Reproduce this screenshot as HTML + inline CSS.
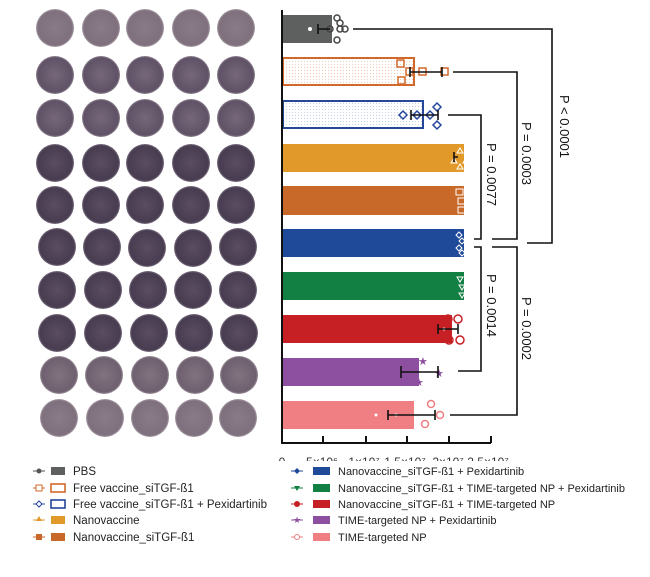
<!DOCTYPE html>
<html><head><meta charset="utf-8"><style>
html,body{margin:0;padding:0;background:#fff;}
svg{display:block;font-family:"Liberation Sans",sans-serif;}
</style></head><body>
<svg width="650" height="577" viewBox="0 0 650 577" xmlns="http://www.w3.org/2000/svg">
<defs>
<radialGradient id="gL"><stop offset="0" stop-color="#8a7b88"/><stop offset="0.9" stop-color="#7f707d"/><stop offset="1" stop-color="#a89ca6"/></radialGradient>
<radialGradient id="gM"><stop offset="0" stop-color="#76687a"/><stop offset="0.9" stop-color="#605266"/><stop offset="1" stop-color="#8e8290"/></radialGradient>
<radialGradient id="gD"><stop offset="0" stop-color="#5a4d62"/><stop offset="0.9" stop-color="#483c50"/><stop offset="1" stop-color="#7a6e80"/></radialGradient>
<radialGradient id="gP"><stop offset="0" stop-color="#82737f"/><stop offset="0.9" stop-color="#6e606f"/><stop offset="1" stop-color="#9c909a"/></radialGradient>
<pattern id="dots" width="3" height="3" patternUnits="userSpaceOnUse"><rect width="3" height="3" fill="#fff"/><circle cx="1.5" cy="1.5" r="0.6" fill="#c9d0e6"/></pattern>
<pattern id="dotsO" width="3" height="3" patternUnits="userSpaceOnUse"><rect width="3" height="3" fill="#fff"/><circle cx="1.5" cy="1.5" r="0.6" fill="#f0cdb8"/></pattern>
<clipPath id="cl"><rect x="0" y="0" width="650" height="461"/></clipPath>
</defs>
<g>
<g fill="url(#gL)"><circle cx="55" cy="28" r="19"/><circle cx="101" cy="28" r="19"/><circle cx="145" cy="28" r="19"/><circle cx="191" cy="28" r="19"/><circle cx="236" cy="28" r="19"/></g>
<g fill="url(#gM)"><circle cx="55" cy="75" r="19"/><circle cx="101" cy="75" r="19"/><circle cx="145" cy="75" r="19"/><circle cx="191" cy="75" r="19"/><circle cx="236" cy="75" r="19"/>
<circle cx="55" cy="118" r="19"/><circle cx="101" cy="118" r="19"/><circle cx="145" cy="118" r="19"/><circle cx="191" cy="118" r="19"/><circle cx="236" cy="118" r="19"/></g>
<g fill="url(#gD)">
<circle cx="55" cy="163" r="19"/><circle cx="101" cy="163" r="19"/><circle cx="145" cy="163" r="19"/><circle cx="191" cy="163" r="19"/><circle cx="236" cy="163" r="19"/>
<circle cx="55" cy="205" r="19"/><circle cx="101" cy="205" r="19"/><circle cx="145" cy="205" r="19"/><circle cx="191" cy="205" r="19"/><circle cx="236" cy="205" r="19"/>
<circle cx="57" cy="247" r="19"/><circle cx="102" cy="247" r="19"/><circle cx="147" cy="248" r="19"/><circle cx="193" cy="248" r="19"/><circle cx="238" cy="247" r="19"/>
<circle cx="57" cy="290" r="19"/><circle cx="103" cy="290" r="19"/><circle cx="148" cy="290" r="19"/><circle cx="193" cy="290" r="19"/><circle cx="238" cy="290" r="19"/>
<circle cx="57" cy="333" r="19"/><circle cx="103" cy="333" r="19"/><circle cx="149" cy="333" r="19"/><circle cx="194" cy="333" r="19"/><circle cx="239" cy="333" r="19"/></g>
<g fill="url(#gP)"><circle cx="59" cy="375" r="19"/><circle cx="104" cy="375" r="19"/><circle cx="150" cy="375" r="19"/><circle cx="195" cy="375" r="19"/><circle cx="239" cy="375" r="19"/></g>
<g fill="url(#gL)"><circle cx="59" cy="418" r="19"/><circle cx="105" cy="418" r="19"/><circle cx="150" cy="418" r="19"/><circle cx="194" cy="418" r="19"/><circle cx="238" cy="418" r="19"/></g>
</g>
<rect x="282" y="15" width="50" height="28" fill="#5e6060"/>
<rect x="283" y="58" width="131" height="27" fill="url(#dotsO)" stroke="#d2692c" stroke-width="2"/>
<rect x="283" y="101" width="140" height="27" fill="url(#dots)" stroke="#25479a" stroke-width="2"/>
<rect x="282" y="144" width="182" height="28" fill="#e19a2a"/>
<rect x="282" y="186" width="182" height="29" fill="#c8692a"/>
<rect x="282" y="229" width="182" height="28" fill="#1e4a99"/>
<rect x="282" y="272" width="182" height="28" fill="#128042"/>
<rect x="282" y="315" width="170" height="28" fill="#c62025"/>
<rect x="282" y="358" width="137" height="28" fill="#8d4f9f"/>
<rect x="282" y="401" width="132" height="28" fill="#ef7f82"/>
<g fill="none" stroke-width="1.5">
<g stroke="#444"><circle cx="337" cy="18" r="3"/><circle cx="340" cy="29" r="3"/><circle cx="337" cy="40" r="3"/><circle cx="330" cy="29" r="3"/><circle cx="345" cy="29" r="3"/><circle cx="340" cy="23" r="3"/></g>
<g stroke="#d2692c"><rect x="397" y="60" width="7" height="7"/><rect x="398" y="77" width="7" height="7"/><rect x="406" y="68" width="7" height="7"/><rect x="419" y="68" width="7" height="7"/><rect x="441" y="68" width="7" height="7"/></g>
<g stroke="#25479a"><path d="M403 111l4 4-4 4-4-4z"/><path d="M417 111l4 4-4 4-4-4z"/><path d="M430 111l4 4-4 4-4-4z"/><path d="M437 103l4 4-4 4-4-4z"/><path d="M437 121l4 4-4 4-4-4z"/></g>
<g stroke="#fff" stroke-width="1"><path d="M460 148l3 5h-6zM460 164l3 5h-6zM454 158l3 5h-6zM466 158l3 5h-6z"/><rect x="456" y="189" width="7" height="6"/><rect x="458" y="198" width="7" height="6"/><rect x="458" y="207" width="7" height="6"/><path d="M459 232l3 3-3 3-3-3zM462 238l3 3-3 3-3-3zM459 245l3 3-3 3-3-3zM462 250l3 3-3 3-3-3z"/><path d="M457 277h6l-3 5zM459 285h6l-3 5zM459 293h6l-3 5z"/></g>
<g stroke="#c62025"><circle cx="448" cy="319" r="4"/><circle cx="458" cy="319" r="4"/><circle cx="449" cy="340" r="4"/><circle cx="460" cy="340" r="4"/></g>
<g stroke="#ef7f82"><circle cx="431" cy="404" r="3.5"/><circle cx="440" cy="415" r="3.5"/><circle cx="425" cy="424" r="3.5"/></g>
</g>
<g fill="#8d4f9f" font-size="11"><text x="418" y="365">★</text><text x="434" y="377">★</text><text x="414" y="386">★</text><text x="398" y="367">★</text></g>
<g fill="#fff"><circle cx="310" cy="29" r="2"/><circle cx="376" cy="415" r="1.5"/><circle cx="396" cy="415" r="1.5"/><circle cx="444" cy="329" r="1.5"/></g>
<g stroke="#111" stroke-width="1.6" fill="none">
<path d="M318 29h12M318 24v10"/>
<path d="M410 72h32M410 67v10M442 67v10"/>
<path d="M411 115h27M411 110v10M438 110v10"/>
<path d="M454 157h4M454 152v10"/>
<path d="M438 329h20M438 324v10M458 324v10"/>
<path d="M401 372h37M401 366v12M438 366v12"/>
<path d="M388 415h47M388 410v10M435 410v10"/>
<path d="M353 29H552V243H527"/>
<path d="M453 72H517V239H492"/>
<path d="M448 115H481V239H474"/>
<path d="M474 247H481V371H458"/>
<path d="M492 247H517V415H450"/>
</g>
<g font-size="13" fill="#111">
<text transform="translate(560,95) rotate(90)">P &lt; 0.0001</text>
<text transform="translate(522,122) rotate(90)">P = 0.0003</text>
<text transform="translate(487,143) rotate(90)">P = 0.0077</text>
<text transform="translate(487,274) rotate(90)">P = 0.0014</text>
<text transform="translate(522,297) rotate(90)">P = 0.0002</text>
</g>
<g stroke="#111" stroke-width="2" fill="none">
<path d="M282 10V443H491"/>
<path d="M323 443v-7M366 443v-7M407 443v-7M449 443v-7M491 443v-7"/>
</g>
<g clip-path="url(#cl)" font-size="12" fill="#333" text-anchor="middle">
<text x="282" y="466">0</text><text x="322" y="466">5×10⁶</text><text x="364" y="466">1×10⁷</text><text x="405" y="466">1.5×10⁷</text><text x="448" y="466">2×10⁷</text><text x="488" y="466">2.5×10⁷</text>
</g>
<g font-size="11.5" fill="#222">
<g><path d="M33 471h12" stroke="#555"/><circle cx="39" cy="471" r="2.5" fill="#555"/><rect x="51" y="467" width="14" height="8" fill="#5e6060"/><text x="73" y="475">PBS</text></g>
<g><path d="M33 488h12" stroke="#d2692c"/><rect x="36" y="485" width="6" height="6" fill="#fff" stroke="#d2692c"/><rect x="51" y="484" width="14" height="8" fill="#fff" stroke="#d2692c" stroke-width="1.6"/><text x="73" y="492">Free vaccine_siTGF-ß1</text></g>
<g><path d="M33 504h12" stroke="#25479a"/><path d="M39 501l3 3-3 3-3-3z" fill="#fff" stroke="#25479a"/><rect x="51" y="500" width="14" height="8" fill="#fff" stroke="#25479a" stroke-width="1.6"/><text x="73" y="508">Free vaccine_siTGF-ß1 + Pexidartinib</text></g>
<g><path d="M33 520h12" stroke="#e19a2a"/><path d="M39 516l3 5h-6z" fill="#e19a2a"/><rect x="51" y="516" width="14" height="8" fill="#e19a2a"/><text x="73" y="524">Nanovaccine</text></g>
<g><path d="M33 537h12" stroke="#c8692a"/><rect x="36" y="534" width="6" height="6" fill="#c8692a"/><rect x="51" y="533" width="14" height="8" fill="#c8692a"/><text x="73" y="541">Nanovaccine_siTGF-ß1</text></g>
</g>
<g font-size="11" fill="#222">
<g><path d="M291 471h12" stroke="#1e4a99"/><path d="M297 468l3 3-3 3-3-3z" fill="#1e4a99"/><rect x="313" y="467" width="17" height="8" fill="#1e4a99"/><text x="338" y="475">Nanovaccine_siTGF-ß1 + Pexidartinib</text></g>
<g><path d="M291 488h12" stroke="#128042"/><path d="M294 486h6l-3 5z" fill="#128042"/><rect x="313" y="484" width="17" height="8" fill="#128042"/><text x="338" y="492">Nanovaccine_siTGF-ß1 + TIME-targeted NP + Pexidartinib</text></g>
<g><path d="M291 504h12" stroke="#c62025"/><circle cx="297" cy="504" r="3" fill="#c62025"/><rect x="313" y="500" width="17" height="8" fill="#c62025"/><text x="338" y="508">Nanovaccine_siTGF-ß1 + TIME-targeted NP</text></g>
<g><path d="M291 520h12" stroke="#8d4f9f"/><text x="293" y="523" font-size="9" fill="#8d4f9f">★</text><rect x="313" y="516" width="17" height="8" fill="#8d4f9f"/><text x="338" y="524">TIME-targeted NP + Pexidartinib</text></g>
<g><path d="M291 537h12" stroke="#ef7f82"/><circle cx="297" cy="537" r="2.5" fill="#fff" stroke="#ef7f82"/><rect x="313" y="533" width="17" height="8" fill="#ef7f82"/><text x="338" y="541">TIME-targeted NP</text></g>
</g>
</svg>
</body></html>
